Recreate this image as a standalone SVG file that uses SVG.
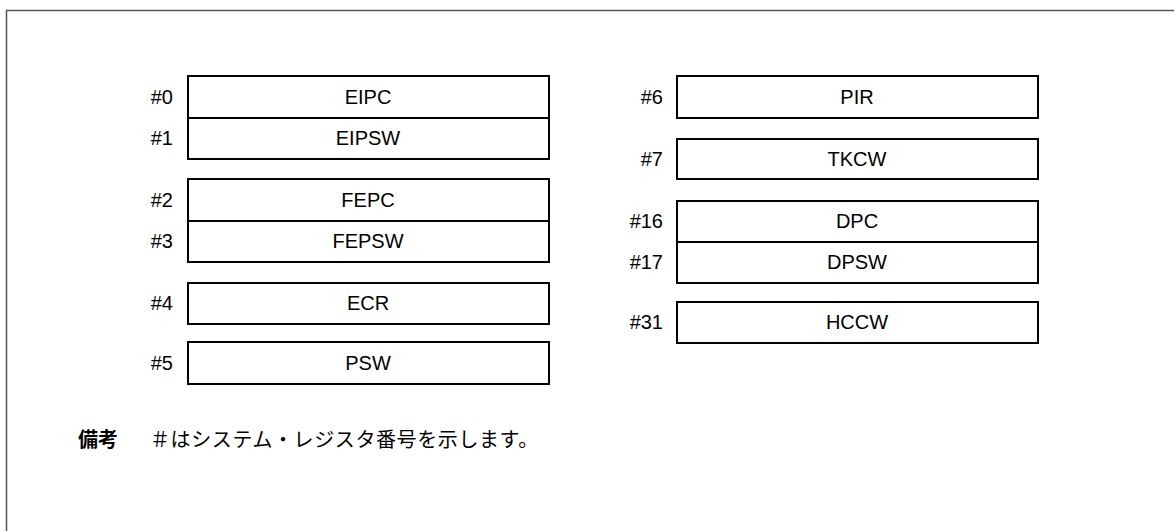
<svg xmlns="http://www.w3.org/2000/svg" width="1174" height="531" viewBox="0 0 1174 531">
  <style>
    .cell { fill: #ffffff; stroke: #000000; stroke-width: 2; }
    .name { font-family: "Liberation Sans", Arial, sans-serif; font-size: 20px; fill: #000000; text-anchor: middle; }
    .num { font-family: "Liberation Sans", Arial, sans-serif; font-size: 20px; fill: #000000; text-anchor: end; }
    .note { font-family: "Noto Sans CJK JP", sans-serif; font-size: 20px; fill: #000000; }
    .frame { fill: none; stroke: #555555; stroke-width: 1.5; }
  </style>
  <rect x="0" y="0" width="1174" height="531" fill="#ffffff"/>
  <path class="frame" d="M6.5,540 V10.5 H1180"/>

  <g id="reg-EIPC">
    <rect class="cell" x="188" y="76" width="361" height="42"/>
    <text class="num" x="173" y="104">#0</text>
    <text class="name" x="368" y="104">EIPC</text>
  </g>
  <g id="reg-EIPSW">
    <rect class="cell" x="188" y="118" width="361" height="41"/>
    <text class="num" x="173" y="145">#1</text>
    <text class="name" x="368" y="145">EIPSW</text>
  </g>
  <g id="reg-FEPC">
    <rect class="cell" x="188" y="179" width="361" height="42"/>
    <text class="num" x="173" y="207">#2</text>
    <text class="name" x="368" y="207">FEPC</text>
  </g>
  <g id="reg-FEPSW">
    <rect class="cell" x="188" y="221" width="361" height="41"/>
    <text class="num" x="173" y="248">#3</text>
    <text class="name" x="368" y="248">FEPSW</text>
  </g>
  <g id="reg-ECR">
    <rect class="cell" x="188" y="283" width="361" height="41"/>
    <text class="num" x="173" y="310">#4</text>
    <text class="name" x="368" y="310">ECR</text>
  </g>
  <g id="reg-PSW">
    <rect class="cell" x="188" y="342" width="361" height="42"/>
    <text class="num" x="173" y="370">#5</text>
    <text class="name" x="368" y="370">PSW</text>
  </g>

  <g id="reg-PIR">
    <rect class="cell" x="677" y="76" width="361" height="42"/>
    <text class="num" x="663" y="104">#6</text>
    <text class="name" x="857" y="104">PIR</text>
  </g>
  <g id="reg-TKCW">
    <rect class="cell" x="677" y="139" width="361" height="40"/>
    <text class="num" x="663" y="166">#7</text>
    <text class="name" x="857" y="166">TKCW</text>
  </g>
  <g id="reg-DPC">
    <rect class="cell" x="677" y="201" width="361" height="41"/>
    <text class="num" x="663" y="228">#16</text>
    <text class="name" x="857" y="228">DPC</text>
  </g>
  <g id="reg-DPSW">
    <rect class="cell" x="677" y="242" width="361" height="41"/>
    <text class="num" x="663" y="269">#17</text>
    <text class="name" x="857" y="269">DPSW</text>
  </g>
  <g id="reg-HCCW">
    <rect class="cell" x="677" y="302" width="361" height="41"/>
    <text class="num" x="663" y="329">#31</text>
    <text class="name" x="857" y="329">HCCW</text>
  </g>

  <g id="connectors"></g>

  <g id="note">
    <text class="note" x="78" y="447" font-weight="bold">備考</text>
    <text class="note" x="150" y="447" letter-spacing="0.6">＃はシステム・レジスタ番号を示します。</text>
  </g>
</svg>
